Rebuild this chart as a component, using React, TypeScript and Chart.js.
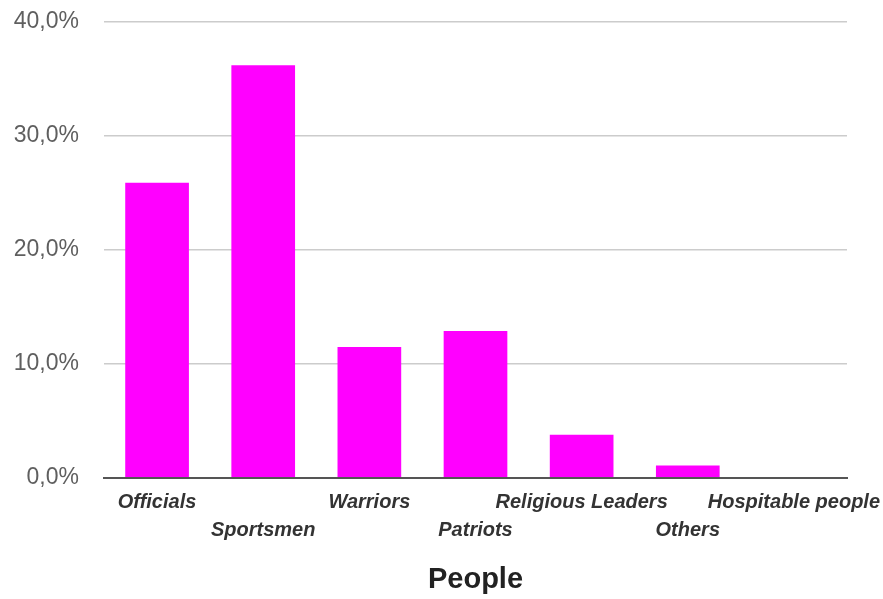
import React, { useEffect, useRef } from "react";
import { Chart, registerables } from "chart.js";

Chart.register(...registerables);

const categories = [
  "Officials",
  "Sportsmen",
  "Warriors",
  "Patriots",
  "Religious Leaders",
  "Others",
  "Hospitable people",
];
const shares = [25.9, 36.2, 11.5, 12.9, 3.8, 1.1, 0];
const yTicks = [0, 10, 20, 30, 40];

const FONT = "'Liberation Sans', Arial, sans-serif";

export default function App() {
  const canvasRef = useRef<HTMLCanvasElement | null>(null);

  useEffect(() => {
    const canvas = canvasRef.current;
    if (!canvas) return;
    const chart = new Chart(canvas, {
      type: "bar",
      data: {
        labels: categories,
        datasets: [
          {
            data: shares,
            backgroundColor: "#ff00ff",
            borderWidth: 0,
            categoryPercentage: 1,
            barPercentage: 0.6,
          },
        ],
      },
      options: {
        animation: false,
        responsive: true,
        maintainAspectRatio: false,
        layout: { padding: { top: 22, right: 36, bottom: 0, left: 0 } },
        plugins: {
          legend: { display: false },
          tooltip: { enabled: false },
        },
        scales: {
          x: {
            grid: { display: false, drawTicks: false },
            border: { display: true, color: "#555555", width: 2 },
            ticks: {
              autoSkip: false,
              maxRotation: 0,
              minRotation: 0,
              padding: 10,
              color: "#333333",
              font: { family: FONT, size: 20, style: "italic", weight: "bold", lineHeight: 1.4 },
              callback: (_v: any, i: number) =>
                i % 2 === 0 ? [categories[i], ""] : ["", categories[i]],
            },
            title: {
              display: true,
              text: "People",
              color: "#222222",
              font: { family: FONT, size: 29, weight: "bold" },
              padding: { top: 0, bottom: 2 },
            },
            afterFit: (scale: any) => {
              scale.height = 121;
              scale.paddingLeft = 0;
              scale.paddingRight = 0;
            },
          },
          y: {
            min: 0,
            max: 40,
            afterBuildTicks: (scale: any) => {
              scale.ticks = yTicks.map((v) => ({ value: v }));
            },
            grid: {
              drawTicks: false,
              color: (ctx: any) => (ctx.tick && ctx.tick.value === 0 ? "#555555" : "#cccccc"),
              lineWidth: (ctx: any) => (ctx.tick && ctx.tick.value === 0 ? 2 : 1.5),
            },
            border: { display: false },
            ticks: {
              padding: 25,
              color: "#5f5f5f",
              font: { family: FONT, size: 23 },
              callback: (v: any) => Number(v).toFixed(1).replace(".", ",") + "%",
            },
            afterFit: (scale: any) => {
              scale.width = 104;
              scale.paddingTop = 0;
              scale.paddingBottom = 0;
            },
          },
        },
      },
    });
    return () => chart.destroy();
  }, []);

  return (
    <div style={{ position: "fixed", left: 0, top: 0, width: 883, height: 599, background: "#ffffff" }}>
      <canvas ref={canvasRef} />
    </div>
  );
}
